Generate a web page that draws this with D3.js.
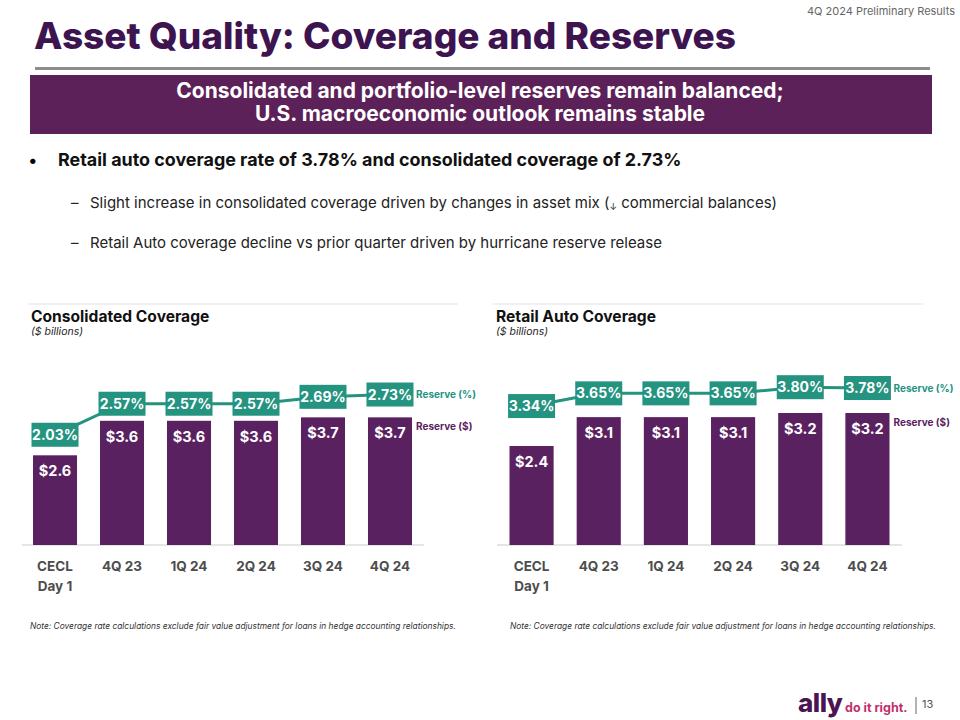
<!DOCTYPE html>
<html>
<head>
<meta charset="utf-8">
<script src="https://cdn.jsdelivr.net/npm/d3@7"></script>
<style>
  body { margin: 0; background: #fff; }
  svg { display: block; font-family: Inter, 'Noto Sans', sans-serif; }
</style>
</head>
<body>
<div id="slide"></div>
<script>
// Chart data
const categories = ['CECL Day 1', '4Q 23', '1Q 24', '2Q 24', '3Q 24', '4Q 24'];
const categoryLines = [['CECL', 'Day 1'], ['4Q 23'], ['1Q 24'], ['2Q 24'], ['3Q 24'], ['4Q 24']];
const consolidatedReserve = [2.6, 3.6, 3.6, 3.6, 3.7, 3.7];
const consolidatedRate = [2.03, 2.57, 2.57, 2.57, 2.69, 2.73];
const retailReserve = [2.4, 3.1, 3.1, 3.1, 3.2, 3.2];
const retailRate = [3.34, 3.65, 3.65, 3.65, 3.80, 3.78];

const PURPLE = '#5a2160';
const TEAL = '#24937f';
const DARK = '#3d1450';

const svg = d3.select('#slide')
	.append('svg')
	.attr('width', 960)
	.attr('height', 720);

// Header
svg.append('text')
	.attr('x', 955)
	.attr('y', 15)
	.attr('text-anchor', 'end')
	.attr('fill', '#666')
	.style('font-size', '11px')
	.text('4Q 2024 Preliminary Results');

svg.append('text')
	.attr('x', 34)
	.attr('y', 49)
	.attr('fill', DARK)
	.style('font-size', '37px')
	.style('font-weight', 800)
	.text('Asset Quality: Coverage and Reserves');

svg.append('rect')
	.attr('x', 35).attr('y', 67)
	.attr('width', 895).attr('height', 3)
	.attr('fill', '#8c8c8c');

svg.append('rect')
	.attr('x', 30).attr('y', 75)
	.attr('width', 902).attr('height', 59)
	.attr('fill', '#5c2159');

svg.append('text')
	.attr('x', 480).attr('y', 98)
	.attr('text-anchor', 'middle')
	.attr('fill', '#fff')
	.style('font-size', '21px')
	.style('font-weight', 700)
	.text('Consolidated and portfolio-level reserves remain balanced;');

svg.append('text')
	.attr('x', 480).attr('y', 121)
	.attr('text-anchor', 'middle')
	.attr('fill', '#fff')
	.style('font-size', '21px')
	.style('font-weight', 700)
	.text('U.S. macroeconomic outlook remains stable');

// Bullets
svg.append('text')
	.attr('x', 28).attr('y', 166)
	.style('font-size', '17px')
	.text('•');
svg.append('text')
	.attr('x', 58).attr('y', 166)
	.attr('fill', '#111')
	.style('font-size', '17.9px')
	.style('font-weight', 700)
	.text('Retail auto coverage rate of 3.78% and consolidated coverage of 2.73%');

const sub1 = svg.append('text')
	.attr('x', 90).attr('y', 208)
	.attr('fill', '#222')
	.style('font-size', '15px');
sub1.append('tspan').text('Slight increase in consolidated coverage driven by changes in asset mix (');
sub1.append('tspan').style('font-size', '9px').attr('dy', 2).text('↓');
sub1.append('tspan').attr('dy', -2).text(' commercial balances)');

svg.append('text')
	.attr('x', 90).attr('y', 248)
	.attr('fill', '#222')
	.style('font-size', '15px')
	.text('Retail Auto coverage decline vs prior quarter driven by hurricane reserve release');

[208, 248].forEach((y) => {
	svg.append('text')
		.attr('x', 71).attr('y', y)
		.attr('fill', '#222')
		.style('font-size', '15px')
		.text('–');
});

// One coverage panel
function drawPanel(opts) {
	const g = svg.append('g');

	// top rule and titles
	g.append('line')
		.attr('x1', opts.ruleX[0]).attr('x2', opts.ruleX[1])
		.attr('y1', 304).attr('y2', 304)
		.attr('stroke', '#ebebeb').attr('stroke-width', 1.5);

	g.append('text')
		.attr('x', opts.titleX).attr('y', 322)
		.attr('fill', '#111')
		.style('font-size', '15.6px')
		.style('font-weight', 700)
		.text(opts.title);

	g.append('text')
		.attr('x', opts.titleX).attr('y', 335)
		.attr('fill', '#222')
		.style('font-size', '10.5px')
		.style('font-style', 'italic')
		.text('($ billions)');

	const x = d3.scaleBand()
		.domain(categories)
		.range(opts.xRange)
		.paddingInner(0.343)
		.paddingOuter(0);

	const yBar = d3.scaleLinear().domain([0, 4]).range(opts.barRange);
	const yLine = d3.scaleLinear().domain([0, 4]).range(opts.lineRange);

	// baseline
	g.append('line')
		.attr('x1', opts.baseX[0]).attr('x2', opts.baseX[1])
		.attr('y1', yBar(0)).attr('y2', yBar(0))
		.attr('stroke', '#dcdcdc').attr('stroke-width', 1.5);

	// bars
	g.selectAll('rect.bar')
		.data(opts.reserve)
		.enter()
		.append('rect')
		.attr('class', 'bar')
		.attr('x', (d, i) => x(categories[i]))
		.attr('y', (d) => yBar(d))
		.attr('width', x.bandwidth())
		.attr('height', (d) => yBar(0) - yBar(d))
		.attr('fill', PURPLE);

	g.selectAll('text.barlabel')
		.data(opts.reserve)
		.enter()
		.append('text')
		.attr('class', 'barlabel')
		.attr('x', (d, i) => x(categories[i]) + x.bandwidth() / 2)
		.attr('y', (d) => yBar(d) + 21)
		.attr('text-anchor', 'middle')
		.attr('fill', '#fff')
		.style('font-size', '14.5px')
		.style('font-weight', 700)
		.text((d) => '$' + d.toFixed(1));

	// coverage line
	const cx = (i) => x(categories[i]) + x.bandwidth() / 2;
	g.append('path')
		.datum(opts.rate)
		.attr('d', d3.line().x((d, i) => cx(i)).y((d) => yLine(d)))
		.attr('fill', 'none')
		.attr('stroke', TEAL)
		.attr('stroke-width', 3);

	const boxW = 47, boxH = 24;
	g.selectAll('rect.box')
		.data(opts.rate)
		.enter()
		.append('rect')
		.attr('class', 'box')
		.attr('x', (d, i) => cx(i) - boxW / 2)
		.attr('y', (d) => yLine(d) - boxH / 2)
		.attr('width', boxW)
		.attr('height', boxH)
		.attr('fill', TEAL);

	g.selectAll('text.rate')
		.data(opts.rate)
		.enter()
		.append('text')
		.attr('class', 'rate')
		.attr('x', (d, i) => cx(i))
		.attr('y', (d) => yLine(d) + 5)
		.attr('text-anchor', 'middle')
		.attr('fill', '#fff')
		.style('font-size', '14px')
		.style('font-weight', 700)
		.text((d) => d.toFixed(2) + '%');

	// legend labels beside last column
	const last = categories.length - 1;
	const lx = x(categories[last]) + x.bandwidth() + 4;
	g.append('text')
		.attr('x', lx)
		.attr('y', yLine(opts.rate[last]) + 3.5)
		.attr('fill', TEAL)
		.style('font-size', '10px')
		.style('font-weight', 700)
		.text('Reserve (%)');
	g.append('text')
		.attr('x', lx)
		.attr('y', yBar(opts.reserve[last]) + 13)
		.attr('fill', PURPLE)
		.style('font-size', '10px')
		.style('font-weight', 700)
		.text('Reserve ($)');

	// category labels
	categoryLines.forEach((lines, i) => {
		lines.forEach((t, j) => {
			g.append('text')
				.attr('x', cx(i))
				.attr('y', 571 + j * 20)
				.attr('text-anchor', 'middle')
				.attr('fill', '#4d4d4d')
				.style('font-size', '13.5px')
				.style('font-weight', 700)
				.text(t);
		});
	});

	// footnote
	g.append('text')
		.attr('x', opts.noteX).attr('y', 629)
		.attr('fill', '#333')
		.style('font-size', '8.4px')
		.style('font-style', 'italic')
		.text('Note: Coverage rate calculations exclude fair value adjustment for loans in hedge accounting relationships.');
}

drawPanel({
	title: 'Consolidated Coverage',
	titleX: 31,
	ruleX: [28, 458],
	baseX: [22, 424],
	xRange: [33, 412],
	barRange: [545, 407],
	lineRange: [551.5, 321.5],
	reserve: consolidatedReserve,
	rate: consolidatedRate,
	noteX: 30,
});

drawPanel({
	title: 'Retail Auto Coverage',
	titleX: 496,
	ruleX: [493, 923],
	baseX: [497, 902],
	xRange: [509.5, 889.5],
	barRange: [545, 380],
	lineRange: [543, 379],
	reserve: retailReserve,
	rate: retailRate,
	noteX: 510,
});

// Footer logo and page number
svg.append('text')
	.attr('x', 798).attr('y', 712)
	.attr('fill', '#4a1552')
	.style('font-size', '26px')
	.style('font-weight', 800)
	.style('letter-spacing', '-0.5px')
	.text('ally');
svg.append('text')
	.attr('x', 845).attr('y', 712)
	.attr('fill', '#c0306e')
	.style('font-size', '12.5px')
	.style('font-weight', 700)
	.text('do it right.');
svg.append('line')
	.attr('x1', 916).attr('x2', 916)
	.attr('y1', 697).attr('y2', 714)
	.attr('stroke', '#666').attr('stroke-width', 1);
svg.append('text')
	.attr('x', 922).attr('y', 708)
	.attr('fill', '#555')
	.style('font-size', '11px')
	.text('13');
</script>
</body>
</html>
